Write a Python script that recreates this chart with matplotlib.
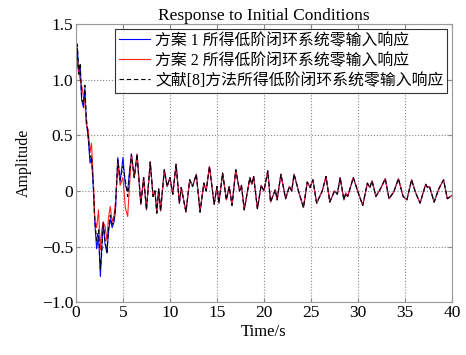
import matplotlib.pyplot as plt

plt.rcParams['font.family'] = ['Liberation Serif', 'Noto Sans CJK SC']
plt.rcParams['axes.unicode_minus'] = True

# transient part (t = 0 .. 5.7 s), each scheme differs here
t_head = [0, 0.15, 0.3, 0.45, 0.6, 0.8, 0.95, 1.1, 1.3, 1.5, 1.65, 1.85, 2.0, 2.2,
          2.4, 2.6, 2.75, 2.9, 3.1, 3.3, 3.45, 3.65, 3.85, 4.05, 4.2, 4.45, 4.7,
          5.0, 5.25, 5.5, 5.7]
head_ref8 = [0.92, 1.32, 1.05, 1.15, 0.85, 0.78, 0.95, 0.66, 0.50, 0.30, 0.32, 0.05,
             -0.25, -0.45, -0.35, -0.70, -0.55, -0.28, -0.45, -0.55, -0.35, -0.22,
             -0.30, -0.25, -0.15, 0.28, 0.10, 0.22, 0.10, -0.05, 0.15]
head_s1 = [0.95, 1.28, 1.05, 1.12, 0.82, 0.75, 0.92, 0.62, 0.48, 0.25, 0.30, 0.02,
           -0.28, -0.52, -0.40, -0.77, -0.50, -0.28, -0.48, -0.56, -0.38, -0.25,
           -0.33, -0.28, -0.18, 0.30, 0.08, 0.30, 0.05, 0.0, 0.18]
head_s2 = [1.00, 1.20, 1.08, 1.00, 0.95, 0.85, 0.80, 0.60, 0.55, 0.35, 0.43, 0.10,
           -0.25, -0.33, -0.17, -0.53, -0.35, -0.28, -0.32, -0.45, -0.25, -0.14,
           -0.28, -0.22, -0.10, 0.25, 0.05, 0.12, -0.15, -0.23, 0.05]

# steady oscillation (t = 5.9 .. 40 s), the three responses nearly coincide
t_tail = [5.9, 6.2, 6.5, 6.9, 7.2, 7.5, 7.9, 8.2, 8.4, 8.6, 8.8, 9.0, 9.4, 9.7, 10.0,
          10.3, 10.65, 11.0, 11.2, 11.7, 12.1, 12.4, 12.8, 13.2, 13.6, 13.85, 14.2,
          14.7, 15.0, 15.2, 15.6, 16.0, 16.3, 16.6, 17.0, 17.4, 17.6, 17.9, 18.5,
          18.7, 18.9, 19.3, 19.7, 20.0, 20.4, 20.7, 21.2, 21.4, 21.8, 22.3, 22.7,
          22.95, 23.2, 23.7, 24.2, 24.6, 24.9, 25.2, 25.6, 26.2, 26.6, 27.0, 27.5,
          27.8, 28.1, 28.5, 28.7, 28.9, 29.5, 30.0, 30.5, 31.0, 31.25, 31.5, 31.9,
          32.4, 32.9, 33.3, 33.8, 34.3, 34.8, 35.2, 35.7, 36.1, 36.6, 37.2, 37.4,
          37.6, 38.1, 38.6, 39.1, 39.5, 40.0]
tail = [0.33, 0.12, 0.33, -0.12, 0.12, -0.17, 0.26, -0.05, 0.0, -0.2, 0.02, -0.18,
        0.19, 0.04, 0.12, -0.03, 0.24, -0.11, 0.03, -0.19, 0.10, 0.04, 0.15, -0.19,
        0.07, 0.0, 0.22, -0.12, 0.04, -0.11, 0.16, -0.08, 0.04, -0.13, 0.19, 0.0,
        0.05, -0.17, 0.12, 0.06, 0.13, -0.16, 0.05, 0.0, 0.18, -0.10, 0.01, -0.08,
        0.15, -0.07, 0.04, 0.0, 0.15, -0.01, -0.15, 0.08, 0.03, 0.10, -0.11, 0.0,
        0.13, -0.10, 0.0, -0.03, 0.12, -0.08, -0.02, -0.05, 0.12, -0.01, -0.13, 0.07,
        0.03, 0.09, -0.05, 0.02, 0.11, -0.07, -0.01, 0.11, -0.05, -0.08, 0.10, -0.01,
        -0.11, 0.06, 0.03, 0.04, -0.10, 0.02, 0.10, -0.07, -0.04]

labels = ['方案 1 所得低阶闭环系统零输入响应',
          '方案 2 所得低阶闭环系统零输入响应',
          '文献[8]方法所得低阶闭环系统零输入响应']

t = t_head + t_tail

fig = plt.figure(figsize=(4.66, 3.55), dpi=100)
ax = fig.add_axes([0.163, 0.149, 0.807, 0.783])

ax.plot(t, head_s1 + tail, color='#0000ff', lw=0.8, label=labels[0])
ax.plot(t, head_s2 + tail, color='#ff2020', lw=0.8, label=labels[1])
ax.plot(t, head_ref8 + tail, color='black', lw=0.8, ls=(0, (4, 2.5)), label=labels[2])

ax.set_xlim(0, 40)
ax.set_ylim(-1.0, 1.5)
ax.set_xticks(range(0, 41, 5))
ax.set_yticks([-1.0, -0.5, 0, 0.5, 1.0, 1.5])
ax.set_yticklabels(['\u22121.0', '\u22120.5', '0', '0.5', '1.0', '1.5'])
ax.tick_params(direction='in', top=True, right=True, labelsize=12.5,
               color='#888888', length=3, pad=2)
for s in ax.spines.values():
    s.set_color('#999999')
ax.grid(True, ls=':', color='#888888', lw=0.8)

ax.set_title('Response to Initial Conditions', fontsize=12.5, pad=3)
ax.set_xlabel('Time/s', fontsize=12, labelpad=2)
ax.set_ylabel('Amplitude', fontsize=11.5, labelpad=7)

leg = ax.legend(loc='upper right', fontsize=11.4, frameon=True, fancybox=False,
                borderaxespad=0.3, handlelength=2.0, handletextpad=0.3,
                labelspacing=0.25, borderpad=0.25)
leg.get_frame().set_edgecolor('black')
leg.get_frame().set_linewidth(0.8)

fig.savefig('out.png', dpi=100)
